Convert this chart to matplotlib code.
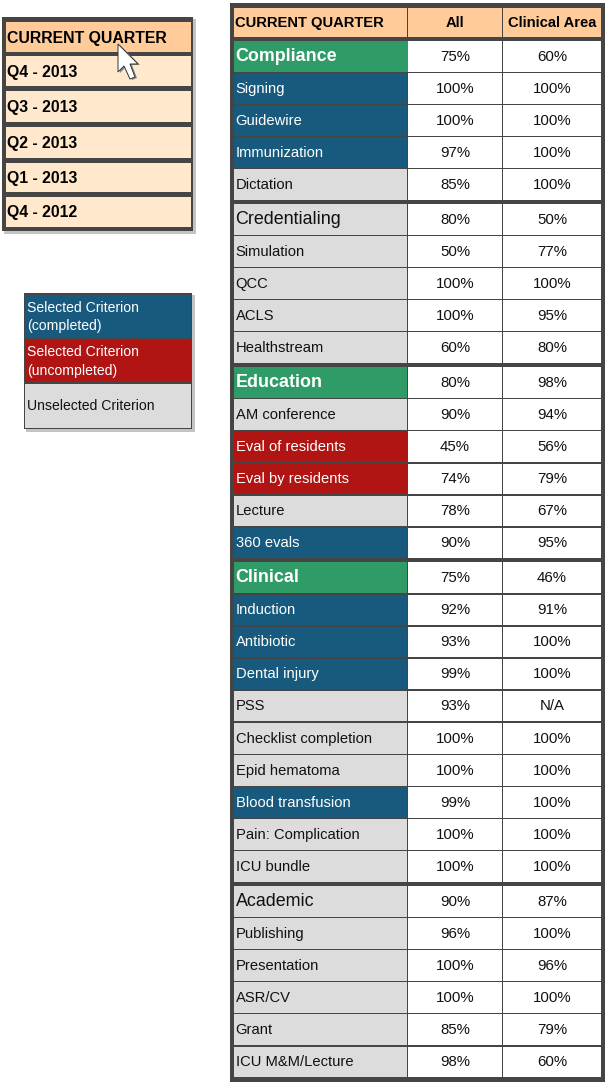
import matplotlib
matplotlib.use('Agg')
import matplotlib.pyplot as plt
from matplotlib.patches import Rectangle, Polygon

plt.rcParams['font.family'] = ['Liberation Sans', 'DejaVu Sans']

quarters = ['CURRENT QUARTER', 'Q4 - 2013', 'Q3 - 2013', 'Q2 - 2013', 'Q1 - 2013', 'Q4 - 2012']
header = ['CURRENT QUARTER', 'All', 'Clinical Area']

criteria = ['Compliance', 'Signing', 'Guidewire', 'Immunization', 'Dictation',
            'Credentialing', 'Simulation', 'QCC', 'ACLS', 'Healthstream',
            'Education', 'AM conference', 'Eval of residents', 'Eval by residents', 'Lecture', '360 evals',
            'Clinical', 'Induction', 'Antibiotic', 'Dental injury', 'PSS', 'Checklist completion',
            'Epid hematoma', 'Blood transfusion', 'Pain: Complication', 'ICU bundle',
            'Academic', 'Publishing', 'Presentation', 'ASR/CV', 'Grant', 'ICU M&M/Lecture']
all_vals = ['75%', '100%', '100%', '97%', '85%',
            '80%', '50%', '100%', '100%', '60%',
            '80%', '90%', '45%', '74%', '78%', '90%',
            '75%', '92%', '93%', '99%', '93%', '100%', '100%', '99%', '100%', '100%',
            '90%', '96%', '100%', '100%', '85%', '98%']
area_vals = ['60%', '100%', '100%', '100%', '100%',
             '50%', '77%', '100%', '95%', '80%',
             '98%', '94%', '56%', '79%', '67%', '95%',
             '46%', '91%', '100%', '100%', 'N/A', '100%', '100%', '100%', '100%', '100%',
             '87%', '100%', '96%', '100%', '79%', '60%']
# g = green heading, h = grey heading, b = completed, r = uncompleted, u = unselected
status = ['g', 'b', 'b', 'b', 'u',
          'h', 'u', 'u', 'u', 'u',
          'g', 'u', 'r', 'r', 'u', 'b',
          'g', 'b', 'b', 'b', 'u', 'u', 'u', 'b', 'u', 'u',
          'h', 'u', 'u', 'u', 'u', 'u']
legend_labels = ['Selected Criterion\n(completed)', 'Selected Criterion\n(uncompleted)', 'Unselected Criterion']
legend_status = ['b', 'r', 'u']

fills = {'g': '#2f9c68', 'h': '#dcdcdc', 'b': '#175a7e', 'r': '#b01513', 'u': '#dcdcdc'}
inks = {'g': 'white', 'h': '#111111', 'b': 'white', 'r': 'white', 'u': '#111111'}
dark = '#454545'
peach = '#ffcc99'
cream = '#ffe8cc'

fig = plt.figure(figsize=(6.09, 10.83), dpi=100)
ax = fig.add_axes([0, 0, 1, 1])
ax.set_xlim(0, 609)
ax.set_ylim(1083, 0)
ax.axis('off')


def box(x0, y0, x1, y1, color, z=2):
    ax.add_patch(Rectangle((x0, y0), x1 - x0, y1 - y0, fc=color, ec='none', lw=0, zorder=z))


def panel(x0, y0, x1, y1, shadow=True):
    if shadow:
        box(x0 + 2, y0 + 2, x1 + 3, y1 + 3, '#c4c4c4', 1)
    box(x0, y0, x1, y1, dark)


# quarter selector
panel(2, 17, 193, 231)
sel_tops = [22, 56, 91, 127, 163, 197]
sel_bots = [52, 86, 122, 158, 192, 227]
for i, q in enumerate(quarters):
    box(6, sel_tops[i], 191, sel_bots[i], peach if i == 0 else cream, 3)
    ax.text(7, (sel_tops[i] + sel_bots[i]) / 2 + 1, q, fontsize=11.4, fontweight='bold', va='center', zorder=4)

# legend
panel(24, 293, 192, 429)
leg_tops = [295, 340, 384]
leg_bots = [338, 382, 428]
for i, lab in enumerate(legend_labels):
    s = legend_status[i]
    box(25, leg_tops[i], 191, leg_bots[i], fills[s], 3)
    ax.text(27, (leg_tops[i] + leg_bots[i]) / 2 + 0.5, lab, fontsize=10.1, color=inks[s], va='center',
            linespacing=1.45, zorder=4)

# main table
panel(230, 3, 605, 1082, shadow=False)
col_x0 = [234, 408, 503]
col_x1 = [407, 502, 601]
col_mid = [0, 455, 552]
for c in range(3):
    box(col_x0[c], 8, col_x1[c], 37, peach, 3)
ax.text(235, 23, header[0], fontsize=10.6, fontweight='bold', va='center', zorder=4)
ax.text(col_mid[1], 23, header[1], fontsize=10.6, fontweight='bold', va='center', ha='center', zorder=4)
ax.text(col_mid[2], 23, header[2], fontsize=10.6, fontweight='bold', va='center', ha='center', zorder=4)

y = 41
pitch = 32.1
for i, name in enumerate(criteria):
    s = status[i]
    heading = s in 'gh'
    if heading and i > 0:
        y += 2.6
    top, bot = round(y), round(y + 30.6)
    box(col_x0[0], top, col_x1[0] + (1 if i == 0 else 0), bot, fills[s], 3)
    box(col_x0[1], top, col_x1[1], bot, 'white', 3)
    box(col_x0[2], top, col_x1[2], bot, 'white', 3)
    mid = (top + bot) / 2 + 0.2
    ax.text(235.5, mid, name, color=inks[s], va='center', zorder=4,
            fontsize=12.9 if heading else 10.6, fontweight='bold' if s == 'g' else 'normal')
    ax.text(col_mid[1], mid, all_vals[i], fontsize=10.8, color='#111111', va='center', ha='center', zorder=4)
    ax.text(col_mid[2], mid, area_vals[i], fontsize=10.8, color='#111111', va='center', ha='center', zorder=4)
    y += pitch

# mouse pointer over the selector
pointer = [(118, 44), (118, 72), (124, 66), (130, 79), (135, 77), (130, 64), (138, 64)]
ax.add_patch(Polygon([(px + 2, py + 1) for px, py in pointer], fc='#888888', ec='none', zorder=5))
ax.add_patch(Polygon(pointer, fc='white', ec='#333333', lw=0.7, zorder=6))

fig.savefig('out.png', dpi=100)
